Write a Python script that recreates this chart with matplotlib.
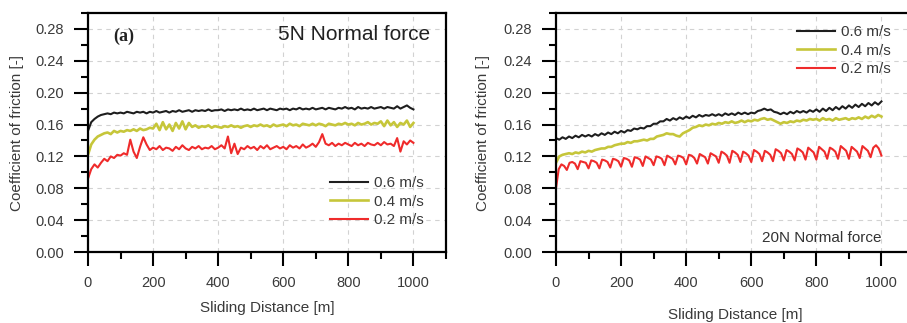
import numpy as np
import matplotlib
matplotlib.use("Agg")
import matplotlib.pyplot as plt
from matplotlib.ticker import MultipleLocator

plt.rcParams['font.family'] = ['Liberation Sans', 'DejaVu Sans']

# sliding distance grids [m]
dist = np.arange(0, 1001, 10)
dist_fine = np.linspace(0, 1000, 121)

speeds = ['0.6 m/s', '0.4 m/s', '0.2 m/s']
colors = ['#1e1e1e', '#c6c63a', '#ef2b2b']

# 5N normal force
cof_5n_06 = [
    0.152, 0.163, 0.167, 0.170, 0.172, 0.173, 0.174, 0.173, 0.175, 0.174,
    0.175, 0.174, 0.176, 0.175, 0.174, 0.176, 0.175, 0.176, 0.174, 0.176,
    0.175, 0.177, 0.175, 0.176, 0.177, 0.175, 0.177, 0.176, 0.178, 0.176,
    0.177, 0.178, 0.176, 0.178, 0.177, 0.178, 0.177, 0.179, 0.177, 0.178,
    0.178, 0.179, 0.177, 0.179, 0.178, 0.179, 0.178, 0.180, 0.178, 0.179,
    0.178, 0.180, 0.178, 0.179, 0.180, 0.178, 0.180, 0.179, 0.178, 0.180,
    0.179, 0.180, 0.178, 0.180, 0.179, 0.181, 0.179, 0.180, 0.179, 0.181,
    0.179, 0.180, 0.181, 0.179, 0.181, 0.180, 0.179, 0.181, 0.180, 0.182,
    0.180, 0.181, 0.179, 0.182, 0.180, 0.181, 0.180, 0.182, 0.180, 0.181,
    0.182, 0.180, 0.182, 0.181, 0.180, 0.183, 0.180, 0.182, 0.184, 0.181,
    0.179]
cof_5n_04 = [
    0.122, 0.135, 0.141, 0.145, 0.147, 0.149, 0.150, 0.148, 0.152, 0.150,
    0.152, 0.151, 0.153, 0.152, 0.154, 0.152, 0.155, 0.153, 0.154, 0.156,
    0.155, 0.161, 0.153, 0.163, 0.154, 0.160, 0.152, 0.162, 0.155, 0.164,
    0.154, 0.162, 0.157, 0.159, 0.156, 0.158, 0.157, 0.159, 0.156, 0.158,
    0.157, 0.156, 0.158, 0.157, 0.159, 0.157, 0.158, 0.156, 0.158, 0.159,
    0.157, 0.159, 0.158, 0.160, 0.158, 0.159, 0.157, 0.160, 0.158, 0.159,
    0.160, 0.158, 0.161, 0.159, 0.160, 0.158, 0.161, 0.160, 0.159, 0.161,
    0.159, 0.161, 0.160, 0.158, 0.161, 0.160, 0.159, 0.161, 0.160, 0.162,
    0.160, 0.161, 0.159, 0.162, 0.160, 0.161, 0.163, 0.160, 0.162, 0.161,
    0.164, 0.158, 0.165, 0.159, 0.163, 0.157, 0.162, 0.160, 0.165, 0.157,
    0.162]
cof_5n_02 = [
    0.092, 0.104, 0.110, 0.106, 0.112, 0.117, 0.114, 0.120, 0.118, 0.122,
    0.121, 0.124, 0.122, 0.141, 0.126, 0.118, 0.132, 0.144, 0.135, 0.128,
    0.131, 0.129, 0.133, 0.128, 0.131, 0.130, 0.127, 0.132, 0.129, 0.134,
    0.130, 0.128, 0.132, 0.130, 0.133, 0.129, 0.131, 0.130, 0.133, 0.129,
    0.131, 0.134, 0.130, 0.145, 0.124, 0.136, 0.123, 0.131, 0.129, 0.133,
    0.130, 0.132, 0.128, 0.133, 0.130, 0.134, 0.129, 0.131, 0.133, 0.130,
    0.132, 0.129, 0.134, 0.131, 0.133, 0.130, 0.135, 0.131, 0.133, 0.136,
    0.132, 0.138, 0.148, 0.136, 0.134, 0.137, 0.133, 0.136, 0.134, 0.137,
    0.135, 0.133, 0.137, 0.134, 0.136, 0.133, 0.137, 0.135, 0.134, 0.137,
    0.134, 0.138, 0.135, 0.136, 0.133, 0.143, 0.126, 0.139, 0.135, 0.140,
    0.137]

# 20N normal force
cof_20n_06 = [
    0.143, 0.141, 0.144, 0.142, 0.145, 0.143, 0.146, 0.144, 0.147, 0.145,
    0.147, 0.145, 0.148, 0.146, 0.149, 0.147, 0.150, 0.148, 0.151, 0.149,
    0.152, 0.150, 0.153, 0.152, 0.155, 0.154, 0.156, 0.155, 0.158, 0.158,
    0.161, 0.161, 0.164, 0.164, 0.167, 0.165, 0.168, 0.166, 0.169, 0.167,
    0.170, 0.168, 0.171, 0.169, 0.172, 0.170, 0.172, 0.171, 0.173, 0.171,
    0.173, 0.171, 0.174, 0.172, 0.174, 0.172, 0.175, 0.173, 0.175, 0.173,
    0.175, 0.174, 0.177, 0.178, 0.180, 0.178, 0.179, 0.176, 0.175, 0.173,
    0.175, 0.173, 0.176, 0.174, 0.177, 0.175, 0.177, 0.175, 0.178, 0.176,
    0.179, 0.176, 0.180, 0.177, 0.181, 0.178, 0.182, 0.179, 0.183, 0.180,
    0.184, 0.181, 0.185, 0.182, 0.186, 0.183, 0.187, 0.184, 0.188, 0.185,
    0.189]
cof_20n_04 = [
    0.112, 0.120, 0.122, 0.123, 0.124, 0.123, 0.125, 0.124, 0.126, 0.125,
    0.127, 0.126, 0.128, 0.129, 0.130, 0.130, 0.132, 0.132, 0.134, 0.135,
    0.136, 0.136, 0.138, 0.137, 0.139, 0.139, 0.140, 0.141, 0.140, 0.142,
    0.142, 0.145, 0.146, 0.147, 0.149, 0.148, 0.148, 0.146, 0.145, 0.149,
    0.151, 0.153, 0.156, 0.157, 0.159, 0.158, 0.160, 0.159, 0.161, 0.160,
    0.162, 0.161, 0.163, 0.162, 0.164, 0.162, 0.163, 0.165, 0.163, 0.165,
    0.164, 0.166, 0.165, 0.167, 0.168, 0.166, 0.167, 0.165, 0.163, 0.161,
    0.163, 0.162, 0.164, 0.163, 0.165, 0.164, 0.166, 0.165, 0.167, 0.166,
    0.167, 0.165, 0.168, 0.166, 0.167, 0.165, 0.168, 0.166, 0.167, 0.168,
    0.166, 0.168, 0.167, 0.169, 0.167, 0.170, 0.168, 0.171, 0.169, 0.172,
    0.170]
cof_20n_02 = [
    0.080, 0.104, 0.110, 0.108,  0.103, 0.112, 0.113, 0.111,
    0.104, 0.114, 0.113, 0.112,  0.105, 0.115, 0.114, 0.112,
    0.105, 0.116, 0.115, 0.113,  0.106, 0.117, 0.116, 0.114,
    0.107, 0.118, 0.117, 0.115,  0.107, 0.119, 0.118, 0.116,
    0.108, 0.120, 0.118, 0.116,  0.109, 0.120, 0.119, 0.117,
    0.109, 0.121, 0.119, 0.117,  0.110, 0.121, 0.120, 0.118,
    0.110, 0.122, 0.121, 0.118,  0.111, 0.123, 0.121, 0.119,
    0.111, 0.124, 0.122, 0.120,  0.112, 0.126, 0.124, 0.121,
    0.112, 0.127, 0.125, 0.122,  0.113, 0.126, 0.124, 0.121,
    0.113, 0.128, 0.126, 0.123,  0.114, 0.127, 0.125, 0.122,
    0.114, 0.129, 0.127, 0.124,  0.115, 0.128, 0.126, 0.123,
    0.115, 0.130, 0.128, 0.125,  0.116, 0.131, 0.128, 0.125,
    0.116, 0.132, 0.129, 0.126,  0.117, 0.131, 0.129, 0.126,
    0.117, 0.133, 0.130, 0.127,  0.117, 0.132, 0.129, 0.126,
    0.118, 0.133, 0.130, 0.127,  0.119, 0.131, 0.134, 0.130,
    0.121]


def style_axes(ax, xlabelpad, ylabelpad):
    ax.set_xlim(0, 1100)
    ax.set_ylim(0, 0.30)
    ax.xaxis.set_minor_locator(MultipleLocator(100))
    ax.yaxis.set_minor_locator(MultipleLocator(0.02))
    ax.set_xticks([0, 200, 400, 600, 800, 1000])
    ax.set_yticks(np.arange(0, 0.29, 0.04))
    ax.set_yticklabels(['%.2f' % v for v in np.arange(0, 0.29, 0.04)])
    ax.tick_params(which='major', direction='out', length=10, width=1.5,
                   pad=7.5, labelsize=10.5, labelcolor='#3a3a3a')
    ax.tick_params(which='minor', direction='out', length=5, width=1.5)
    for s in ax.spines.values():
        s.set_linewidth(1.6)
    ax.grid(True, which='major', linestyle=(0, (4, 4)), color='#d2d2d2', lw=0.8)
    ax.set_axisbelow(True)
    ax.set_xlabel('Sliding Distance [m]', fontsize=11, color='#3a3a3a', labelpad=xlabelpad)
    ax.set_ylabel('Coefficient of friction [-]', fontsize=11, color='#3a3a3a', labelpad=ylabelpad)


fig = plt.figure(figsize=(9.07, 3.23), dpi=100)
ax1 = fig.add_axes([0.0970, 0.2198, 0.3947, 0.7399])
ax2 = fig.add_axes([0.6130, 0.2198, 0.3947, 0.7399])

for ax, series, x02 in [(ax1, [cof_5n_06, cof_5n_04, cof_5n_02], dist),
                        (ax2, [cof_20n_06, cof_20n_04, cof_20n_02], dist_fine)]:
    ax.plot(dist, series[0], color=colors[0], lw=1.5, label=speeds[0])
    ax.plot(dist, series[1], color=colors[1], lw=1.9, label=speeds[1])
    ax.plot(x02, series[2], color=colors[2], lw=1.5, label=speeds[2])

style_axes(ax1, 8, 8)
style_axes(ax2, 13, 9)

leg_kw = dict(frameon=False, fontsize=11, borderpad=0, handlelength=2.5,
              handletextpad=0.4, labelspacing=0.3, borderaxespad=0,
              loc='upper left')
for t in ax1.legend(bbox_to_anchor=(0.676, 0.318), **leg_kw).get_texts():
    t.set_color('#3a3a3a')
for t in ax2.legend(bbox_to_anchor=(0.673, 0.950), **leg_kw).get_texts():
    t.set_color('#3a3a3a')

ax1.text(0.07, 0.904, '(a)', transform=ax1.transAxes, fontsize=13,
         fontweight='bold', family='Liberation Serif', va='center', color='#222')
ax1.text(0.955, 0.912, '5N Normal force', transform=ax1.transAxes, fontsize=15,
         ha='right', va='center', color='#222')
ax2.text(0.908, 0.06, '20N Normal force', transform=ax2.transAxes, fontsize=11,
         ha='right', va='center', color='#333')

fig.savefig('out.png', dpi=100)
